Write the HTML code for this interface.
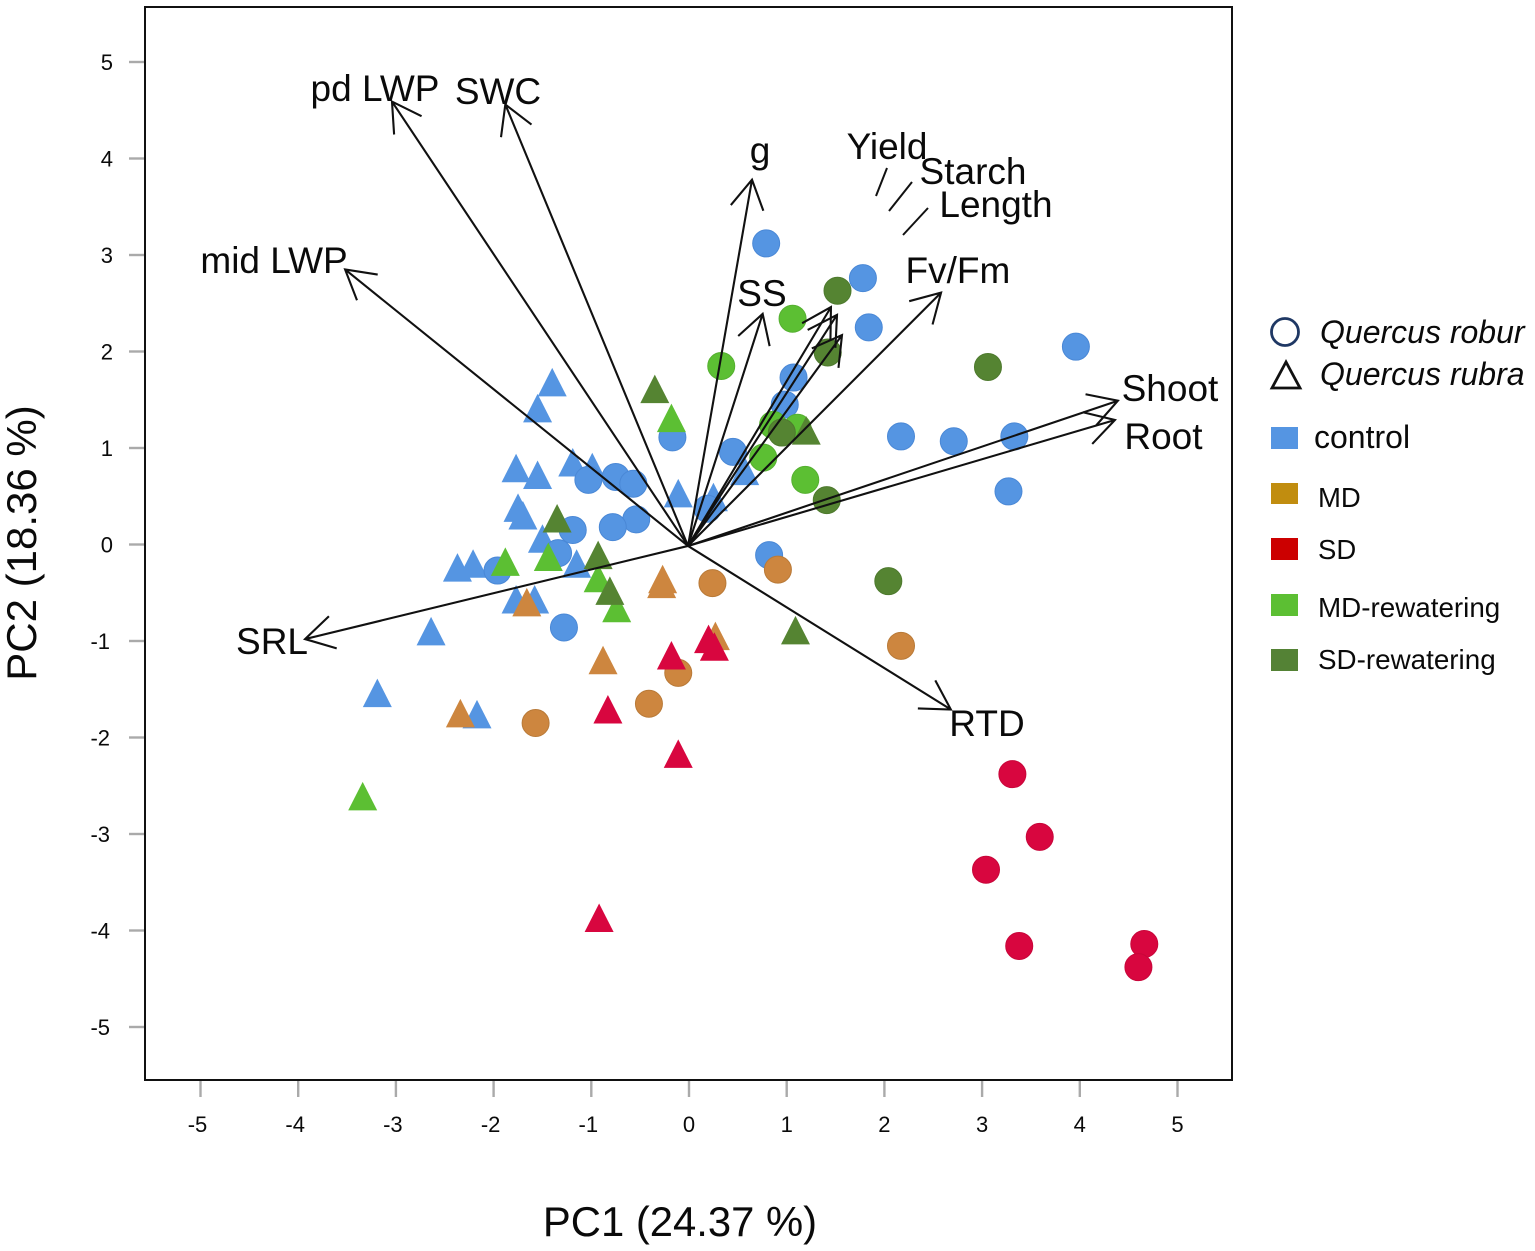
<!DOCTYPE html>
<html lang="en">
<head>
<meta charset="utf-8">
<title>PCA biplot of Quercus robur and Quercus rubra</title>
<style>
html,body{margin:0;padding:0;background:#fff;}
svg{display:block;font-family:"Liberation Sans",Arial,sans-serif;}
text{fill:#0a0a0a;}
</style>
</head>
<body>
<svg id="chart" xmlns="http://www.w3.org/2000/svg" width="1535" height="1251" viewBox="0 0 1535 1251">
  <rect x="0" y="0" width="1535" height="1251" fill="#fff"/>
  <g id="points"></g>
  <g id="arrows"></g>
  <g stroke="#111" stroke-width="2" fill="none">
    <line x1="876" y1="196" x2="887" y2="168"/>
    <line x1="889" y1="211" x2="912" y2="182"/>
    <line x1="903" y1="235" x2="928" y2="208"/>
  </g>
  <g id="labels" font-size="37" text-anchor="middle"></g>
  <g id="axes"></g>
  <rect x="145" y="7" width="1087" height="1073" fill="none" stroke="#111" stroke-width="2"/>
  <text x="680" y="1236" font-size="41.8" text-anchor="middle">PC1 (24.37 %)</text>
  <text transform="translate(36,543) rotate(-90)" font-size="42" text-anchor="middle">PC2 (18.36 %)</text>
  <g>
    <circle cx="1285" cy="332" r="13.5" fill="#fff" stroke="#1f3864" stroke-width="2.8"/>
    <text x="1320" y="343" font-size="32" font-style="italic">Quercus robur</text>
    <polygon points="1286,362 1272,388 1300,388" fill="#fff" stroke="#111" stroke-width="2.8"/>
    <text x="1320" y="385" font-size="32" font-style="italic">Quercus rubra</text>
    <rect x="1271" y="427" width="27" height="22" fill="#5595e2"/>
    <text x="1314" y="448" font-size="32">control</text>
    <rect x="1271" y="483" width="27" height="21" fill="#c18d0f"/>
    <text x="1318" y="507" font-size="27.5">MD</text>
    <rect x="1271" y="538" width="27" height="22" fill="#cc0000"/>
    <text x="1318" y="559" font-size="27.5">SD</text>
    <rect x="1271" y="594" width="27" height="22" fill="#5cbf33"/>
    <text x="1318" y="617" font-size="27.8">MD-rewatering</text>
    <rect x="1271" y="649" width="27" height="22" fill="#548235"/>
    <text x="1318" y="669" font-size="27.8">SD-rewatering</text>
  </g>
</svg>
<script>
// ---- axis tick labels ----
const xTicks = [-5,-4,-3,-2,-1,0,1,2,3,4,5];
const yTicks = [-5,-4,-3,-2,-1,0,1,2,3,4,5];

// ---- Quercus robur (circles) ----
const controlCircleX = [0.79,1.78,1.84,3.96,1.07,0.98,-0.17,0.45,2.17,2.71,3.33,3.27,-1.03,-0.75,-0.57,-0.54,-0.78,-1.19,0.19,0.82,-1.96,-1.34,-1.28];
const controlCircleY = [3.12,2.76,2.25,2.05,1.73,1.45,1.11,0.96,1.12,1.07,1.12,0.55,0.67,0.70,0.63,0.26,0.18,0.15,0.37,-0.11,-0.27,-0.09,-0.86];
const mdCircleX = [0.24,0.91,2.17,-0.11,-0.41,-1.57];
const mdCircleY = [-0.40,-0.26,-1.05,-1.33,-1.65,-1.85];
const sdCircleX = [3.31,3.59,3.04,3.38,4.66,4.60];
const sdCircleY = [-2.38,-3.03,-3.37,-4.16,-4.14,-4.38];
const mdRewCircleX = [0.33,1.06,0.76,1.19,0.86,1.11];
const mdRewCircleY = [1.85,2.34,0.90,0.67,1.24,1.21];
const sdRewCircleX = [1.52,1.42,0.95,3.06,1.41,2.04];
const sdRewCircleY = [2.63,1.99,1.16,1.84,0.46,-0.38];

// ---- Quercus rubra (triangles) ----
const controlTriX = [-1.40,-1.55,-1.77,-1.55,-1.19,-0.99,-0.11,-1.75,-1.70,-1.50,-2.21,-2.37,-1.15,-1.77,-1.58,-2.64,-3.19,-2.17,0.25,0.57];
const controlTriY = [1.68,1.41,0.79,0.72,0.85,0.80,0.53,0.38,0.30,0.06,-0.20,-0.24,-0.20,-0.57,-0.57,-0.90,-1.54,-1.76,0.49,0.76];
const mdTriX = [-0.27,-0.28,-1.66,-0.88,-2.34,0.27];
const mdTriY = [-0.36,-0.41,-0.60,-1.20,-1.75,-0.95];
const sdTriX = [-0.18,0.20,0.26,-0.83,-0.11,-0.92];
const sdTriY = [-1.15,-0.98,-1.06,-1.71,-2.17,-3.87];
const mdRewTriX = [-0.18,-1.88,-1.44,-0.93,-0.74,-3.34];
const mdRewTriY = [1.31,-0.18,-0.13,-0.35,-0.66,-2.61];
const sdRewTriX = [-0.35,-1.35,-0.93,-0.81,1.09,1.20];
const sdRewTriY = [1.61,0.27,-0.11,-0.48,-0.89,1.18];

// ---- loading arrows ----
const arrowNames = ["pd LWP","SWC","mid LWP","g","Yield","Starch","Length","SS","Fv/Fm","Shoot","Root","SRL","RTD"];
const arrowX = [-3.04,-1.88,-3.52,0.645,1.453,1.515,1.566,0.754,2.58,4.39,4.36,-3.93,2.68];
const arrowY = [4.59,4.56,2.85,3.78,2.46,2.38,2.17,2.39,2.61,1.49,1.29,-0.98,-1.71];
const labelX = [-3.214,-1.955,-4.247,0.727,2.027,2.907,3.142,0.747,2.753,4.923,4.856,-4.268,3.050];
const labelY = [4.596,4.565,2.813,3.953,3.995,3.736,3.394,2.472,2.710,1.487,0.990,-1.135,-1.985];

// ---- axis functions ----
function sx(v){ return 689 + v * 97.7; }
function sy(v){ return 544.5 - v * 96.5; }

const NS = "http://www.w3.org/2000/svg";
function make(tag, parent){
  const el = document.createElementNS(NS, tag);
  parent.appendChild(el);
  return el;
}

const pointsG = document.getElementById("points");
const arrowsG = document.getElementById("arrows");
const labelsG = document.getElementById("labels");
const axesG = document.getElementById("axes");

function drawTriangles(xs, ys, color, name){
  xs.forEach(function(v, i){
    const cx = sx(v), cy = sy(ys[i]);
    const el = make("polygon", pointsG);
    el.setAttribute("points", cx+","+(cy-14.5)+" "+(cx-14.5)+","+(cy+14)+" "+(cx+14.5)+","+(cy+14));
    el.setAttribute("fill", color);
    
    
  });
}
function drawCircles(xs, ys, color, edge, name){
  xs.forEach(function(v, i){
    const el = make("circle", pointsG);
    el.setAttribute("cx", sx(v));
    el.setAttribute("cy", sy(ys[i]));
    el.setAttribute("r", 13.5);
    el.setAttribute("fill", color);
    el.setAttribute("stroke", edge);
    el.setAttribute("stroke-width", 1);
    
    
  });
}

drawTriangles(controlTriX, controlTriY, "#5595e2", "control");
drawCircles(controlCircleX, controlCircleY, "#5595e2", "#4a88d6", "control");
drawTriangles(mdTriX, mdTriY, "#cd863f", "md");
drawCircles(mdCircleX, mdCircleY, "#cd863f", "#b97a38", "md");
drawTriangles(sdTriX, sdTriY, "#d8063f", "sd");
drawCircles(sdCircleX, sdCircleY, "#d8063f", "#c8063a", "sd");
drawCircles(mdRewCircleX, mdRewCircleY, "#5cbf33", "#55b030", "md-rewatering");
drawTriangles(mdRewTriX, mdRewTriY, "#5cbf33", "md-rewatering");
drawCircles(sdRewCircleX, sdRewCircleY, "#558432", "#4e7a2e", "sd-rewatering");
drawTriangles(sdRewTriX, sdRewTriY, "#558432", "sd-rewatering");

// arrows
const originX = sx(-0.01), originY = sy(-0.015);
arrowNames.forEach(function(name, i){
  const tx = sx(arrowX[i]), ty = sy(arrowY[i]);
  const ang = Math.atan2(ty - originY, tx - originX);
  const a1 = ang + Math.PI - Math.PI / 6, a2 = ang + Math.PI + Math.PI / 6;
  const len = 33;
  const d = "M" + originX + " " + originY + "L" + tx + " " + ty +
    "M" + (tx + len * Math.cos(a1)) + " " + (ty + len * Math.sin(a1)) +
    "L" + tx + " " + ty +
    "L" + (tx + len * Math.cos(a2)) + " " + (ty + len * Math.sin(a2));
  const p = make("path", arrowsG);
  p.setAttribute("d", d);
  p.setAttribute("fill", "none");
  p.setAttribute("stroke", "#111");
  p.setAttribute("stroke-width", 2.1);
  
  

  const t = make("text", labelsG);
  t.setAttribute("x", sx(labelX[i]));
  t.setAttribute("y", sy(labelY[i]));
  t.textContent = name;
  
  
});

// ticks
xTicks.forEach(function(v){
  const l = make("line", axesG);
  l.setAttribute("x1", sx(v)); l.setAttribute("x2", sx(v));
  l.setAttribute("y1", 1081); l.setAttribute("y2", 1097);
  l.setAttribute("stroke", "#aaa");
  l.setAttribute("stroke-width", 2.4);
  
  

  const t = make("text", axesG);
  t.setAttribute("x", sx(v) - (v < 0 ? 3 : 0));
  t.setAttribute("y", 1132);
  t.setAttribute("font-size", 22);
  t.setAttribute("text-anchor", "middle");
  t.textContent = String(v);
  
  
});
yTicks.forEach(function(v){
  const l = make("line", axesG);
  l.setAttribute("x1", 129); l.setAttribute("x2", 144);
  l.setAttribute("y1", sy(v)); l.setAttribute("y2", sy(v));
  l.setAttribute("stroke", "#aaa");
  l.setAttribute("stroke-width", 2.4);
  
  

  const t = make("text", axesG);
  t.setAttribute("x", v < 0 ? 110 : 113);
  t.setAttribute("y", sy(v) + 8);
  t.setAttribute("font-size", 22);
  t.setAttribute("text-anchor", "end");
  t.textContent = String(v);
  
  
});
</script>
</body>
</html>
